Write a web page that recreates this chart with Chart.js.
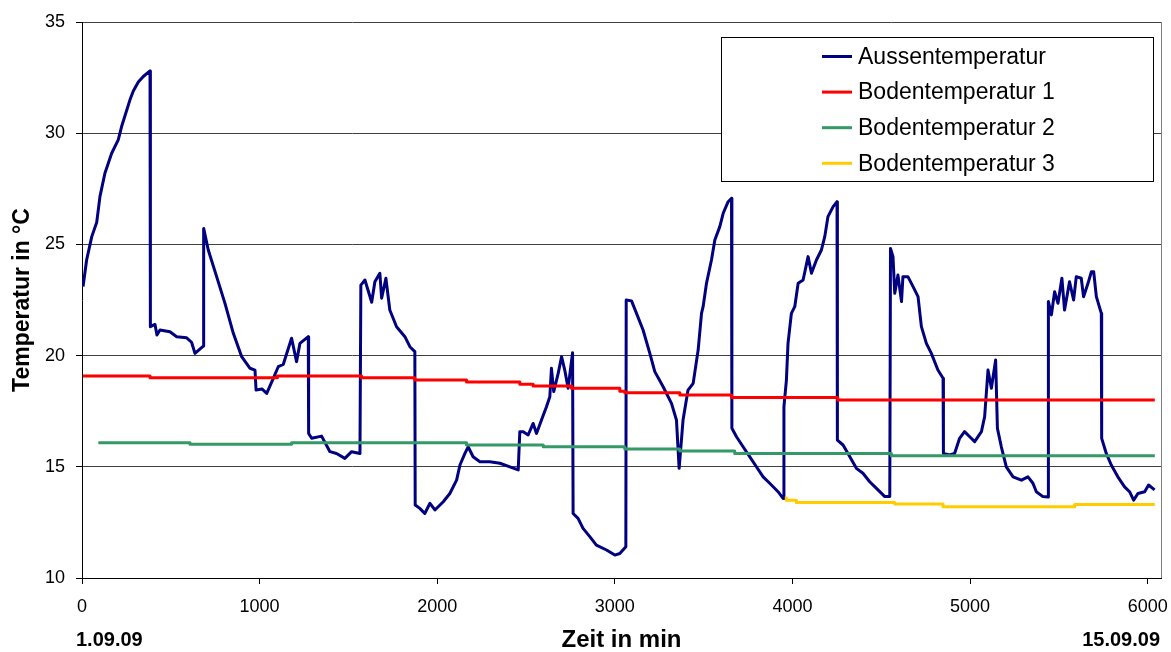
<!DOCTYPE html>
<html><head><meta charset="utf-8">
<script src="https://cdn.jsdelivr.net/npm/chart.js@4.4.0/dist/chart.umd.min.js"></script>
<style>html,body{margin:0;padding:0;background:#fff}canvas{display:block}</style>
</head><body>
<canvas id="c" width="1171" height="652"></canvas>
<script>
// ---- data (minutes / °C) ----
const seriesNames = ['Aussentemperatur', 'Bodentemperatur 1', 'Bodentemperatur 2', 'Bodentemperatur 3'];
const xTickValues = [0, 1000, 2000, 3000, 4000, 5000, 6000];
const yTickValues = [10, 15, 20, 25, 30, 35];
const startDateLabel = '1.09.09';
const endDateLabel = '15.09.09';

const aussenMin = [6,26,55,83,101,129,167,204,223,270,289,317,345,383,385,411,422,439,495,533,589,617,636,683,685,711,758,805,852,899,946,974,980,1013,1040,1077,1105,1133,1180,1208,1227,1274,1276,1293,1349,1396,1433,1480,1518,1565,1570,1593,1631,1649,1677,1687,1711,1733,1771,1818,1846,1874,1876,1902,1930,1959,1987,2034,2071,2109,2128,2156,2174,2202,2240,2296,2353,2409,2456,2465,2484,2512,2540,2559,2587,2615,2634,2643,2656,2681,2700,2718,2737,2762,2765,2793,2821,2859,2896,2953,3000,3028,3062,3064,3094,3122,3159,3197,3225,3272,3319,3347,3362,3384,3412,3441,3469,3488,3497,3516,3544,3563,3591,3610,3638,3657,3659,3685,3722,3760,3797,3835,3872,3919,3947,3952,3966,3975,3994,4013,4032,4060,4088,4107,4135,4163,4182,4200,4229,4251,4253,4285,4323,4360,4397,4435,4473,4520,4548,4552,4566,4576,4594,4614,4622,4650,4679,4707,4726,4754,4782,4819,4848,4850,4885,4913,4941,4969,4998,5026,5064,5082,5101,5120,5144,5154,5176,5204,5242,5289,5326,5354,5373,5410,5439,5441,5458,5476,5495,5517,5532,5560,5583,5598,5626,5639,5664,5683,5696,5711,5739,5741,5767,5795,5832,5870,5898,5921,5945,5983,6005,6039];
const aussenTemp = [23.1,24.3,25.35,26.0,27.15,28.2,29.1,29.7,30.3,31.5,31.9,32.3,32.55,32.8,21.3,21.4,20.93,21.15,21.07,20.85,20.8,20.6,20.1,20.43,25.72,24.75,23.55,22.35,21.0,19.95,19.43,19.35,18.45,18.5,18.3,18.98,19.5,19.6,20.78,19.73,20.55,20.85,16.5,16.28,16.38,15.68,15.6,15.38,15.68,15.6,23.17,23.4,22.4,23.32,23.7,22.58,23.48,22.05,21.3,20.85,20.4,20.18,13.28,13.13,12.9,13.36,13.06,13.43,13.8,14.4,15.08,15.6,15.9,15.45,15.23,15.23,15.16,15.0,14.86,16.58,16.58,16.43,16.95,16.5,17.1,17.7,18.15,19.43,18.38,19.2,19.95,19.35,18.53,20.13,12.9,12.68,12.23,11.86,11.48,11.26,11.03,11.1,11.41,22.5,22.46,21.9,21.15,20.1,19.28,18.6,17.85,17.1,14.93,17.1,18.45,18.75,20.25,21.9,22.2,23.25,24.3,25.2,25.8,26.4,26.92,27.07,16.73,16.35,15.9,15.45,15.0,14.55,14.26,13.88,13.58,17.7,18.9,20.55,21.9,22.2,23.25,23.4,24.45,23.7,24.3,24.75,25.35,26.25,26.7,26.92,16.2,15.98,15.45,14.93,14.71,14.33,14.03,13.66,13.66,24.82,24.45,22.8,23.62,22.43,23.55,23.55,23.1,22.65,21.3,20.55,20.1,19.35,18.98,15.6,15.53,15.6,16.28,16.58,16.35,16.13,16.58,17.25,19.35,18.53,19.8,16.73,15.9,15.0,14.55,14.4,14.55,14.26,13.88,13.66,13.64,22.43,21.83,22.87,22.35,23.48,22.05,23.32,22.5,23.55,23.48,22.65,23.25,23.77,23.77,22.65,21.9,16.28,15.6,15.08,14.55,14.1,13.88,13.5,13.8,13.88,14.18,13.96];

const boden1Min  = [6, 383, 1100, 1574, 1874, 2165, 2465, 2540, 2756, 3028, 3056, 3366, 3657, 4255, 6040];
const boden1Temp = [19.08, 19.0, 19.08, 19.0, 18.9, 18.81, 18.71, 18.63, 18.53, 18.4, 18.33, 18.23, 18.12, 18.0, 18.0];

const boden2Min  = [92, 608, 1180, 2165, 2597, 3056, 3366, 3675, 4557, 6040];
const boden2Temp = [16.08, 16.01, 16.08, 15.98, 15.9, 15.8, 15.71, 15.6, 15.5, 15.5];

const boden3Min  = [3957, 3966, 4022, 4576, 4848, 5589, 6040];
const boden3Temp = [13.6, 13.5, 13.39, 13.33, 13.2, 13.31, 13.31];

const seriesColors = ['#000080', '#FF0000', '#339966', '#FFCC00'];

// ---- chart ----
function pts(xs, ys) { return xs.map((x, i) => ({ x: x, y: ys[i] })); }
const FONT = "'Liberation Sans', Arial, sans-serif";

const deco = {
  id: 'deco',
  afterDraw(chart) {
    const ctx = chart.ctx, a = chart.chartArea;
    ctx.save();
    // right frame of plot area
    ctx.strokeStyle = '#808080';
    ctx.lineWidth = 1;
    ctx.beginPath();
    ctx.moveTo(Math.round(a.right) + 0.5, a.top);
    ctx.lineTo(Math.round(a.right) + 0.5, a.bottom);
    ctx.stroke();

    // legend
    const lx = 721.5, ly = 37.5, lw = 432, lh = 144;
    ctx.fillStyle = '#fff';
    ctx.fillRect(lx, ly, lw, lh);
    ctx.strokeStyle = '#000';
    ctx.lineWidth = 1;
    ctx.strokeRect(lx, ly, lw, lh);
    ctx.font = '23px ' + FONT;
    ctx.textBaseline = 'middle';
    ctx.textAlign = 'left';
    chart.data.datasets.forEach((ds, i) => {
      const y = 56.5 + i * 35.6;
      ctx.strokeStyle = ds.borderColor;
      ctx.lineWidth = 3;
      ctx.beginPath();
      ctx.moveTo(822, y);
      ctx.lineTo(852, y);
      ctx.stroke();
      ctx.fillStyle = '#000';
      ctx.fillText(ds.label, 858, y + 1);
    });

    // date labels under the x axis
    ctx.font = 'bold 20px ' + FONT;
    ctx.fillStyle = '#000';
    ctx.textAlign = 'left';
    ctx.fillText(startDateLabel, 76, 640);
    ctx.textAlign = 'right';
    ctx.fillText(endDateLabel, 1160, 640);
    ctx.restore();
  }
};

new Chart(document.getElementById('c'), {
  type: 'line',
  data: {
    datasets: [
      { label: seriesNames[0], data: pts(aussenMin, aussenTemp), borderColor: seriesColors[0], order: 3 },
      { label: seriesNames[1], data: pts(boden1Min, boden1Temp), borderColor: seriesColors[1], stepped: 'before', order: 2 },
      { label: seriesNames[2], data: pts(boden2Min, boden2Temp), borderColor: seriesColors[2], stepped: 'before', order: 1 },
      { label: seriesNames[3], data: pts(boden3Min, boden3Temp), borderColor: seriesColors[3], stepped: 'before', order: 0 }
    ]
  },
  options: {
    responsive: false,
    animation: false,
    devicePixelRatio: 1,
    elements: {
      point: { radius: 0, hoverRadius: 0 },
      line: { borderWidth: 3, tension: 0, borderJoinStyle: 'round', borderCapStyle: 'butt', fill: false }
    },
    layout: { padding: { top: 22, right: 10, left: 0, bottom: 0 } },
    plugins: { legend: { display: false }, tooltip: { enabled: false } },
    scales: {
      x: {
        type: 'linear',
        min: 0,
        max: 6075,
        afterBuildTicks: s => { s.ticks = xTickValues.map(v => ({ value: v })); },
        afterFit: s => { s.height = 74; s.paddingLeft = 0; s.paddingRight = 0; },
        ticks: { font: { family: FONT, size: 18 }, color: '#000', padding: 12, maxRotation: 0, autoSkip: false,
                 callback: v => String(v) },
        grid: { drawOnChartArea: false, drawTicks: true, tickLength: 6, tickColor: '#000' },
        border: { display: true, color: '#000', width: 1 },
        title: { display: true, text: 'Zeit in min', color: '#000',
                 font: { family: FONT, size: 24, weight: 'bold', lineHeight: 1 }, padding: { top: 0, bottom: 0 } }
      },
      y: {
        type: 'linear',
        min: 10,
        max: 35,
        afterBuildTicks: s => { s.ticks = yTickValues.map(v => ({ value: v })); },
        afterFit: s => { s.width = 82; s.paddingTop = 0; s.paddingBottom = 0; },
        ticks: { font: { family: FONT, size: 18 }, color: '#000', padding: 11, callback: v => String(v) },
        grid: { color: '#404040', lineWidth: 1, drawTicks: true, tickLength: 6, tickColor: '#000' },
        border: { display: true, color: '#000', width: 1 },
        title: { display: true, text: 'Temperatur in °C', color: '#000',
                 font: { family: FONT, size: 23, weight: 'bold', lineHeight: 1 }, padding: { top: 11, bottom: 0 } }
      }
    }
  },
  plugins: [deco]
});
</script>
</body></html>
